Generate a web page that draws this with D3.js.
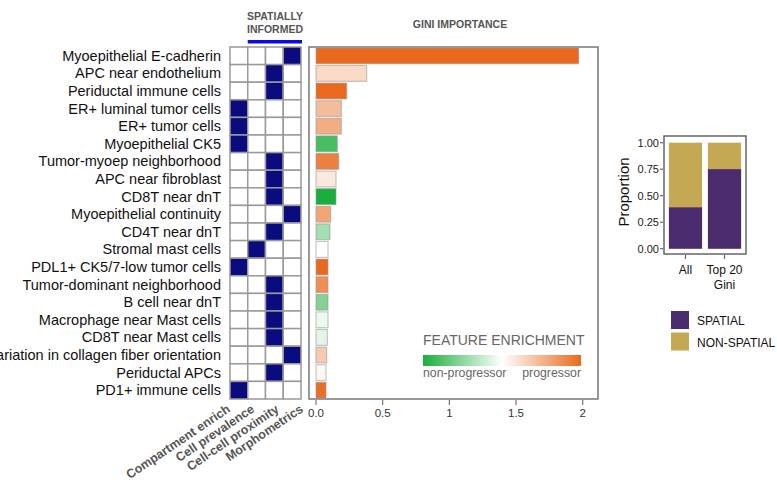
<!doctype html>
<html>
<head>
<meta charset="utf-8">
<title>Gini importance of features</title>
<script src="https://cdnjs.cloudflare.com/ajax/libs/d3/7.8.5/d3.min.js"></script>
<style>
  body { margin: 0; background: #fff; }
  text { font-family: "Liberation Sans", Arial, sans-serif; }
</style>
</head>
<body>
<div id="chart"></div>
<script>
// feature names, top to bottom
const features = [
  "Myoepithelial E-cadherin", "APC near endothelium", "Periductal immune cells",
  "ER+ luminal tumor cells", "ER+ tumor cells", "Myoepithelial CK5",
  "Tumor-myoep neighborhood", "APC near fibroblast", "CD8T near dnT",
  "Myoepithelial continuity", "CD4T near dnT", "Stromal mast cells",
  "PDL1+ CK5/7-low tumor cells", "Tumor-dominant neighborhood", "B cell near dnT",
  "Macrophage near Mast cells", "CD8T near Mast cells",
  "Variation in collagen fiber orientation", "Periductal APCs", "PD1+ immune cells"
];
const featureTypes = ["Compartment enrich", "Cell prevalence", "Cell-cell proximity", "Morphometrics"];
// index into featureTypes for each feature
const typeIndex = [3, 2, 2, 0, 0, 0, 2, 2, 2, 3, 2, 1, 0, 2, 2, 2, 2, 3, 2, 0];
// gini importance
const gini = [1.97, 0.38, 0.23, 0.19, 0.19, 0.16, 0.17, 0.15, 0.15, 0.11,
              0.105, 0.09, 0.09, 0.09, 0.09, 0.09, 0.085, 0.08, 0.075, 0.075];
// enrichment: -1 non-progressor ... +1 progressor
const enrichment = [1.0, 0.25, 1.0, 0.45, 0.55, -0.8, 0.85, 0.15, -1.0, 0.6,
                    -0.4, 0.0, 1.0, 0.75, -0.55, -0.08, -0.12, 0.35, 0.05, 0.97];
const giniTicks = [0, 0.5, 1, 1.5, 2];
const giniTickLabels = ["0.0", "0.5", "1", "1.5", "2"];

// proportion panel
const groups = ["All", "Top 20\nGini"];
const spatialShare = [0.39, 0.75];
const propTicks = [0, 0.25, 0.5, 0.75, 1];

const W = 777, H = 483;
const svg = d3.select("#chart").append("svg")
  .attr("width", W).attr("height", H);

const y = d3.scaleBand().domain(d3.range(features.length)).range([47, 399]);
const xCat = d3.scaleBand().domain(d3.range(featureTypes.length)).range([230, 301]);
const x = d3.scaleLinear().domain([0, 2]).range([316, 582.7]);

const green = "#1aae3c", orange = "#e96a1e";
const color = d3.scaleLinear().domain([-1, 0, 1]).range([green, "#ffffff", orange])
  .interpolate(d3.interpolateRgb);

// row labels
svg.append("g").selectAll("text").data(features).join("text")
  .attr("x", 221).attr("y", (d, i) => y(i) + y.bandwidth() / 2 + 5)
  .attr("text-anchor", "end").attr("font-size", 14.5).attr("fill", "#111")
  .text(d => d);

// heatmap
const cells = [];
features.forEach((f, i) => featureTypes.forEach((t, j) => cells.push({ i, j, on: typeIndex[i] === j })));
svg.append("g").selectAll("rect").data(cells).join("rect")
  .attr("x", d => xCat(d.j)).attr("y", d => y(d.i))
  .attr("width", xCat.bandwidth()).attr("height", y.bandwidth())
  .attr("fill", d => d.on ? "#0b0b80" : "#fff")
  .attr("stroke", "#9a9a9a").attr("stroke-width", 1.5);

// column labels (slanted, spread a little wider than the columns)
const labelX = d3.scaleLinear().domain([0, 3]).range([231, 304]);
svg.append("g").selectAll("text").data(featureTypes).join("text")
  .attr("transform", (d, j) => `translate(${labelX(j)},411) rotate(-34)`)
  .attr("text-anchor", "end").attr("font-size", 12.5).attr("font-weight", "bold")
  .attr("fill", "#555").text(d => d);

// spatially informed header
svg.append("text").attr("x", 275).attr("y", 19.5).attr("text-anchor", "middle")
  .attr("font-size", 10.5).attr("font-weight", "bold").attr("fill", "#555").text("SPATIALLY");
svg.append("text").attr("x", 275).attr("y", 32.5).attr("text-anchor", "middle")
  .attr("font-size", 10.5).attr("font-weight", "bold").attr("fill", "#555").text("INFORMED");
svg.append("rect").attr("x", xCat(1)).attr("y", 40).attr("width", xCat.range()[1] - xCat(1) + 1)
  .attr("height", 3.5).attr("fill", "#0a0ae6");

// gini panel
svg.append("text").attr("x", 460).attr("y", 28).attr("text-anchor", "middle")
  .attr("font-size", 10.5).attr("font-weight", "bold").attr("fill", "#555").text("GINI IMPORTANCE");
svg.append("rect").attr("x", 309).attr("y", 47).attr("width", 289).attr("height", 352)
  .attr("fill", "none").attr("stroke", "#777").attr("stroke-width", 1.5);

const yb = y.copy().paddingInner(0.1).paddingOuter(0.05);
svg.append("g").selectAll("rect").data(gini).join("rect")
  .attr("x", x(0)).attr("y", (d, i) => yb(i))
  .attr("width", d => x(d) - x(0)).attr("height", yb.bandwidth())
  .attr("fill", (d, i) => color(enrichment[i]))
  .attr("stroke", "#999").attr("stroke-width", 1.2).attr("stroke-opacity", 0.55);

const gAxis = svg.append("g");
gAxis.selectAll("line").data(giniTicks).join("line")
  .attr("x1", d => x(d)).attr("x2", d => x(d)).attr("y1", 400).attr("y2", 405)
  .attr("stroke", "#777").attr("stroke-width", 1.2);
gAxis.selectAll("text").data(giniTicks).join("text")
  .attr("x", d => x(d)).attr("y", 417).attr("text-anchor", "middle")
  .attr("font-size", 11.5).attr("fill", "#333").text((d, i) => giniTickLabels[i]);

// enrichment legend
const defs = svg.append("defs");
const grad = defs.append("linearGradient").attr("id", "enrich");
grad.selectAll("stop").data([-1, -0.5, 0, 0.5, 1]).join("stop")
  .attr("offset", d => ((d + 1) / 2 * 100) + "%").attr("stop-color", d => color(d));
svg.append("text").attr("x", 423).attr("y", 345).attr("font-size", 14).attr("fill", "#666")
  .text("FEATURE ENRICHMENT");
svg.append("rect").attr("x", 423).attr("y", 355).attr("width", 158).attr("height", 11)
  .attr("fill", "url(#enrich)");
svg.append("text").attr("x", 423).attr("y", 377).attr("font-size", 12.3).attr("fill", "#666")
  .text("non-progressor");
svg.append("text").attr("x", 581).attr("y", 377).attr("font-size", 12.3).attr("fill", "#666")
  .attr("text-anchor", "end").text("progressor");

// proportion panel
const py = d3.scaleLinear().domain([0, 1]).range([248.7, 142.7]);
const px = d3.scaleBand().domain(d3.range(groups.length)).range([665, 745]).paddingInner(0.15).paddingOuter(0.1);
const purple = "#4b2c6e", gold = "#c5a853";
svg.append("g").selectAll("rect").data(spatialShare).join("rect")
  .attr("x", (d, i) => px(i)).attr("y", py(1)).attr("width", px.bandwidth())
  .attr("height", py(0) - py(1)).attr("fill", gold);
svg.append("g").selectAll("rect").data(spatialShare).join("rect")
  .attr("x", (d, i) => px(i)).attr("y", d => py(d)).attr("width", px.bandwidth())
  .attr("height", d => py(0) - py(d)).attr("fill", purple);
svg.append("rect").attr("x", 664).attr("y", 136).attr("width", 82).attr("height", 118)
  .attr("fill", "none").attr("stroke", "#666").attr("stroke-width", 1.5);

const pAxis = svg.append("g");
pAxis.selectAll("line").data(propTicks).join("line")
  .attr("x1", 660).attr("x2", 663).attr("y1", d => py(d)).attr("y2", d => py(d))
  .attr("stroke", "#666").attr("stroke-width", 1.2);
pAxis.selectAll("text").data(propTicks).join("text")
  .attr("x", 659).attr("y", d => py(d) + 4).attr("text-anchor", "end")
  .attr("font-size", 11).attr("fill", "#222").text(d => d3.format(".2f")(d));
svg.append("text").attr("transform", "translate(629,192) rotate(-90)")
  .attr("text-anchor", "middle").attr("font-size", 15).attr("fill", "#111").text("Proportion");

const xg = svg.append("g");
xg.selectAll("line").data(groups).join("line")
  .attr("x1", (d, i) => px(i) + px.bandwidth() / 2).attr("x2", (d, i) => px(i) + px.bandwidth() / 2)
  .attr("y1", 255).attr("y2", 259).attr("stroke", "#666").attr("stroke-width", 1.2);
xg.selectAll("text").data(groups).join("text")
  .attr("x", (d, i) => px(i) + px.bandwidth() / 2).attr("y", 274)
  .attr("text-anchor", "middle").attr("font-size", 12).attr("fill", "#111")
  .each(function (d) {
    d3.select(this).selectAll("tspan").data(d.split("\n")).join("tspan")
      .attr("x", d3.select(this).attr("x")).attr("dy", (t, k) => k ? 15 : 0).text(t => t);
  });

// spatial legend
const legendItems = [["SPATIAL", purple], ["NON-SPATIAL", gold]];
const lg = svg.append("g").selectAll("g").data(legendItems).join("g")
  .attr("transform", (d, i) => `translate(671,${311 + i * 21.5})`);
lg.append("rect").attr("width", 18).attr("height", 18).attr("fill", d => d[1]);
lg.append("text").attr("x", 26).attr("y", 14).attr("font-size", 12).attr("fill", "#111").text(d => d[0]);
</script>
</body>
</html>
